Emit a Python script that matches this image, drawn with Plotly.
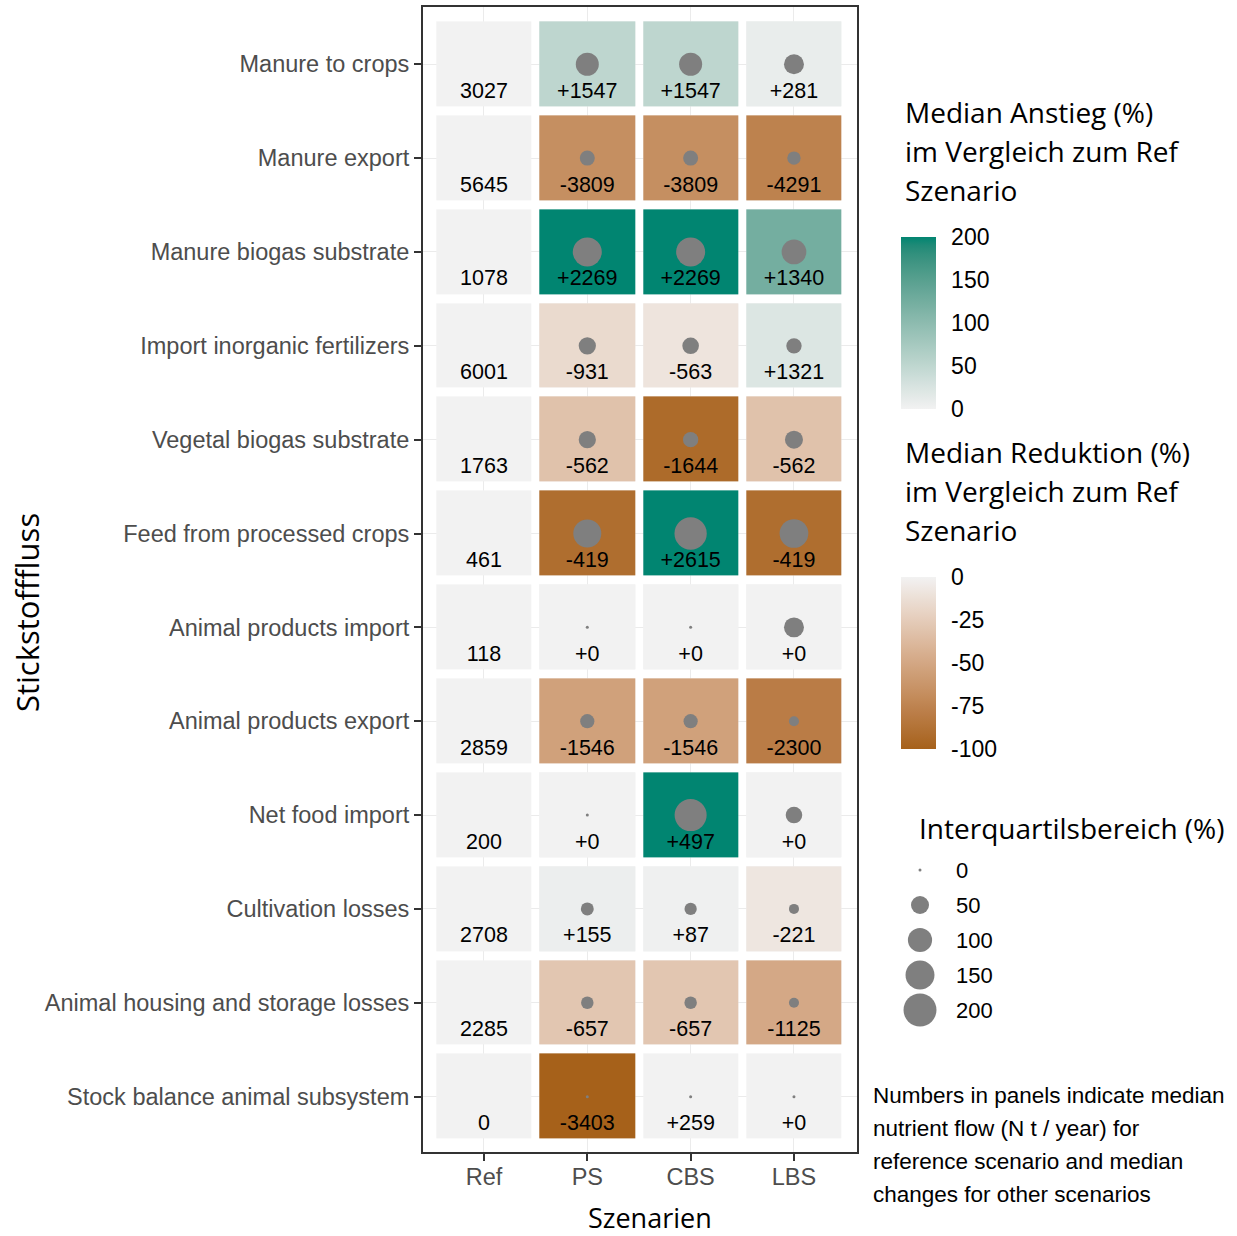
import numpy as np
import plotly.graph_objects as go

W, H = 1237, 1236

# ---------------------------------------------------------------- data
flows = [
    "Manure to crops",
    "Manure export",
    "Manure biogas substrate",
    "Import inorganic fertilizers",
    "Vegetal biogas substrate",
    "Feed from processed crops",
    "Animal products import",
    "Animal products export",
    "Net food import",
    "Cultivation losses",
    "Animal housing and storage losses",
    "Stock balance animal subsystem",
]
scenarios = ["Ref", "PS", "CBS", "LBS"]

# median nitrogen flow of the reference scenario (N t / year)
ref_flow = [3027, 5645, 1078, 6001, 1763, 461, 118, 2859, 200, 2708, 2285, 0]

# median change against the reference (N t / year)
change_ps = [1547, -3809, 2269, -931, -562, -419, 0, -1546, 0, 155, -657, -3403]
change_cbs = [1547, -3809, 2269, -563, -1644, 2615, 0, -1546, 497, 87, -657, 259]
change_lbs = [281, -4291, 1340, 1321, -562, -419, 0, -2300, 0, -221, -1125, 0]

# median change in percent of the reference (None = not defined)
pct_ps = [51, -67, 210, -16, -32, -91, 0, -54, 0, 6, -29, -100]
pct_cbs = [51, -67, 210, -9, -93, 567, 0, -54, 248, 3, -29, None]
pct_lbs = [9, -76, 124, 22, -32, -91, 0, -80, 0, -8, -49, None]

# interquartile range of the change (%)
iqr_ps = [89, 32, 151, 45, 45, 139, 0, 28, 0, 22, 20, 0]
iqr_cbs = [89, 32, 151, 41, 34, 191, 0, 28, 188, 19, 20, 0]
iqr_lbs = [64, 24, 105, 34, 50, 147, 64, 11, 41, 11, 11, 0]

increase_ticks = [0, 50, 100, 150, 200]
decrease_ticks = [0, -25, -50, -75, -100]
iqr_legend = [0, 50, 100, 150, 200]

title_increase = ["Median Anstieg (%)", "im Vergleich zum Ref", "Szenario"]
title_decrease = ["Median Reduktion (%)", "im Vergleich zum Ref", "Szenario"]
title_iqr = "Interquartilsbereich (%)"
footnote = [
    "Numbers in panels indicate median",
    "nutrient flow (N t / year) for",
    "reference scenario and median",
    "changes for other scenarios",
]

# ---------------------------------------------------------------- styling helpers
SANS = "Liberation Sans, Arial, sans-serif"
TITLE = "Open Sans, sans-serif"
GREY_BG = "#F2F2F2"
TEAL = "#018571"
BROWN = "#A6611A"
DOT = "#7F7F7F"


def _srgb_to_lin(c):
    c = np.asarray(c) / 255.0
    return np.where(c <= 0.04045, c / 12.92, ((c + 0.055) / 1.055) ** 2.4)


def _lin_to_srgb(c):
    c = np.clip(c, 0, 1)
    v = np.where(c <= 0.0031308, 12.92 * c, 1.055 * c ** (1 / 2.4) - 0.055)
    return np.clip(np.round(v * 255), 0, 255).astype(int)


M = np.array([[0.4124, 0.3576, 0.1805], [0.2126, 0.7152, 0.0722], [0.0193, 0.1192, 0.9505]])
WHITE = np.array([0.95047, 1.0, 1.08883])


def hex_to_lab(h):
    rgb = [int(h[i:i + 2], 16) for i in (1, 3, 5)]
    xyz = M @ _srgb_to_lin(rgb) / WHITE
    f = np.where(xyz > 0.008856, np.cbrt(xyz), 7.787 * xyz + 16 / 116)
    return np.array([116 * f[1] - 16, 500 * (f[0] - f[1]), 200 * (f[1] - f[2])])


def lab_to_hex(lab):
    L, a, b = lab
    fy = (L + 16) / 116
    fx = fy + a / 500
    fz = fy - b / 200
    f = np.array([fx, fy, fz])
    xyz = np.where(f ** 3 > 0.008856, f ** 3, (f - 16 / 116) / 7.787) * WHITE
    rgb = _lin_to_srgb(np.linalg.solve(M, xyz))
    return "#%02x%02x%02x" % tuple(rgb)


def lab_scale(c0, c1, n=21):
    l0, l1 = hex_to_lab(c0), hex_to_lab(c1)
    return [[t, lab_to_hex(l0 + (l1 - l0) * t)] for t in np.linspace(0, 1, n)]


def px(x):
    return x / W


def py(y):
    return 1 - y / H


def dot_size(v):
    return 3 + 2.12 * np.sqrt(v)


def colorbar(top, ticks):
    return dict(
        x=px(901), xanchor="left", y=py(top), yanchor="top",
        len=172, lenmode="pixels", thickness=35, thicknessmode="pixels",
        xpad=0, ypad=0, outlinewidth=0,
        tickvals=ticks, ticktext=[str(t) for t in ticks],
        ticks="outside", ticklen=11, tickcolor="rgba(0,0,0,0)",
        tickfont=dict(family=SANS, size=23, color="black"),
    )


# ---------------------------------------------------------------- matrices
n_rows, n_cols = len(flows), len(scenarios)
rows = list(range(n_rows))
cols = list(range(n_cols))
pct_cols = [None, pct_ps, pct_cbs, pct_lbs]
change_cols = [None, change_ps, change_cbs, change_lbs]
iqr_cols = [None, iqr_ps, iqr_cbs, iqr_lbs]

z_base = [[0 for _ in cols] for _ in rows]
z_pos = [[None for _ in cols] for _ in rows]
z_neg = [[None for _ in cols] for _ in rows]
for c in cols[1:]:
    for r in rows:
        v = pct_cols[c][r]
        if v is None:
            continue
        if v >= 0:
            z_pos[r][c] = v
        else:
            z_neg[r][c] = v

XGAP, YGAP = 8, 9

fig = go.Figure()

# grey background tiles for every cell
fig.add_trace(go.Heatmap(
    z=z_base, x=cols, y=rows, zmin=0, zmax=1,
    colorscale=[[0, GREY_BG], [1, GREY_BG]], showscale=False,
    xgap=XGAP, ygap=YGAP, hoverinfo="skip",
))

# increases
fig.add_trace(go.Heatmap(
    z=z_pos, x=cols, y=rows, zmin=0, zmax=200,
    colorscale=lab_scale(GREY_BG, TEAL), xgap=XGAP, ygap=YGAP,
    hoverinfo="skip", colorbar=colorbar(237, increase_ticks),
))

# reductions
fig.add_trace(go.Heatmap(
    z=z_neg, x=cols, y=rows, zmin=-100, zmax=0,
    colorscale=lab_scale(BROWN, GREY_BG), xgap=XGAP, ygap=YGAP,
    hoverinfo="skip", colorbar=colorbar(577, decrease_ticks),
))

# interquartile range dots
dx, dy, ds = [], [], []
for c in cols[1:]:
    for r in rows:
        dx.append(c)
        dy.append(r)
        ds.append(dot_size(iqr_cols[c][r]))
fig.add_trace(go.Scatter(
    x=dx, y=dy, mode="markers",
    marker=dict(size=ds, color=DOT, opacity=1, line=dict(width=0)),
    hoverinfo="skip", showlegend=False,
))

# numbers in the panels
tx, ty, tt = [], [], []
for r in rows:
    tx.append(0)
    ty.append(r + 0.3)
    tt.append(f"{ref_flow[r]}")
for c in cols[1:]:
    for r in rows:
        tx.append(c)
        ty.append(r + 0.3)
        tt.append(f"{change_cols[c][r]:+d}")
fig.add_trace(go.Scatter(
    x=tx, y=ty, text=tt, mode="text", textposition="middle center",
    textfont=dict(family=SANS, size=21.5, color="black"),
    hoverinfo="skip", showlegend=False,
))

# size legend for the interquartile range, on its own small axis in pixel units
LEG_X0, LEG_X1, LEG_Y0, LEG_Y1 = 880, 1237, 845, 1040
leg_y = [870 + 35 * i for i in range(len(iqr_legend))]
fig.add_trace(go.Scatter(
    x=[920] * len(iqr_legend), y=leg_y, mode="markers",
    marker=dict(size=[dot_size(v) for v in iqr_legend], color=DOT, opacity=1,
                line=dict(width=0)),
    xaxis="x2", yaxis="y2", hoverinfo="skip", showlegend=False, cliponaxis=False,
))

annotations = []
for v, yy in zip(iqr_legend, leg_y):
    annotations.append(dict(
        x=954, y=yy, xref="x2", yref="y2", text=str(v), showarrow=False,
        xanchor="left", yanchor="middle",
        font=dict(family=SANS, size=22, color="black"),
    ))
annotations.append(dict(
    x=px(917), y=py(828), xref="paper", yref="paper", text=title_iqr,
    showarrow=False, xanchor="left", yanchor="middle",
    font=dict(family=TITLE, size=28, color="black"),
))
for i, line in enumerate(title_increase):
    annotations.append(dict(
        x=px(903), y=py(112 + 39 * i), xref="paper", yref="paper", text=line,
        showarrow=False, xanchor="left", yanchor="middle",
        font=dict(family=TITLE, size=28, color="black"),
    ))
for i, line in enumerate(title_decrease):
    annotations.append(dict(
        x=px(903), y=py(452 + 39 * i), xref="paper", yref="paper", text=line,
        showarrow=False, xanchor="left", yanchor="middle",
        font=dict(family=TITLE, size=28, color="black"),
    ))
for i, line in enumerate(footnote):
    annotations.append(dict(
        x=px(871), y=py(1095 + 33 * i), xref="paper", yref="paper", text=line,
        showarrow=False, xanchor="left", yanchor="middle",
        font=dict(family=SANS, size=22.5, color="black"),
    ))
annotations.append(dict(
    x=px(650), y=py(1217), xref="paper", yref="paper", text="Szenarien",
    showarrow=False, xanchor="center", yanchor="middle",
    font=dict(family=TITLE, size=27, color="black"),
))
annotations.append(dict(
    x=px(27), y=py(613), xref="paper", yref="paper", text="Stickstofffluss",
    showarrow=False, xanchor="center", yanchor="middle", textangle=-90,
    font=dict(family=TITLE, size=31, color="black"),
))

axis_common = dict(
    showline=True, mirror=True, linecolor="#333333", linewidth=2,
    ticks="outside", ticklen=7, tickwidth=2, tickcolor="#333333",
    showgrid=True, gridcolor="#EBEBEB", gridwidth=1, zeroline=False,
    tickfont=dict(family=SANS, size=23.5, color="#4D4D4D"),
    fixedrange=True,
)

fig.update_layout(
    width=W, height=H,
    margin=dict(l=0, r=0, t=0, b=0),
    paper_bgcolor="white", plot_bgcolor="rgba(0,0,0,0)",
    showlegend=False,
    xaxis=dict(
        domain=[px(423), px(857)], range=[-0.59, 3.61],
        tickvals=cols, ticktext=scenarios, ticklabelstandoff=-4, **axis_common,
    ),
    yaxis=dict(
        domain=[py(1152), py(7)], range=[11.59, -0.61],
        tickvals=rows, ticktext=flows, **axis_common,
    ),
    xaxis2=dict(domain=[px(LEG_X0), px(LEG_X1)], range=[LEG_X0, LEG_X1],
                anchor="y2", visible=False, fixedrange=True),
    yaxis2=dict(domain=[py(LEG_Y1), py(LEG_Y0)], range=[LEG_Y1, LEG_Y0],
                anchor="x2", visible=False, fixedrange=True),
    annotations=annotations,
)

fig.write_html("out.html")
